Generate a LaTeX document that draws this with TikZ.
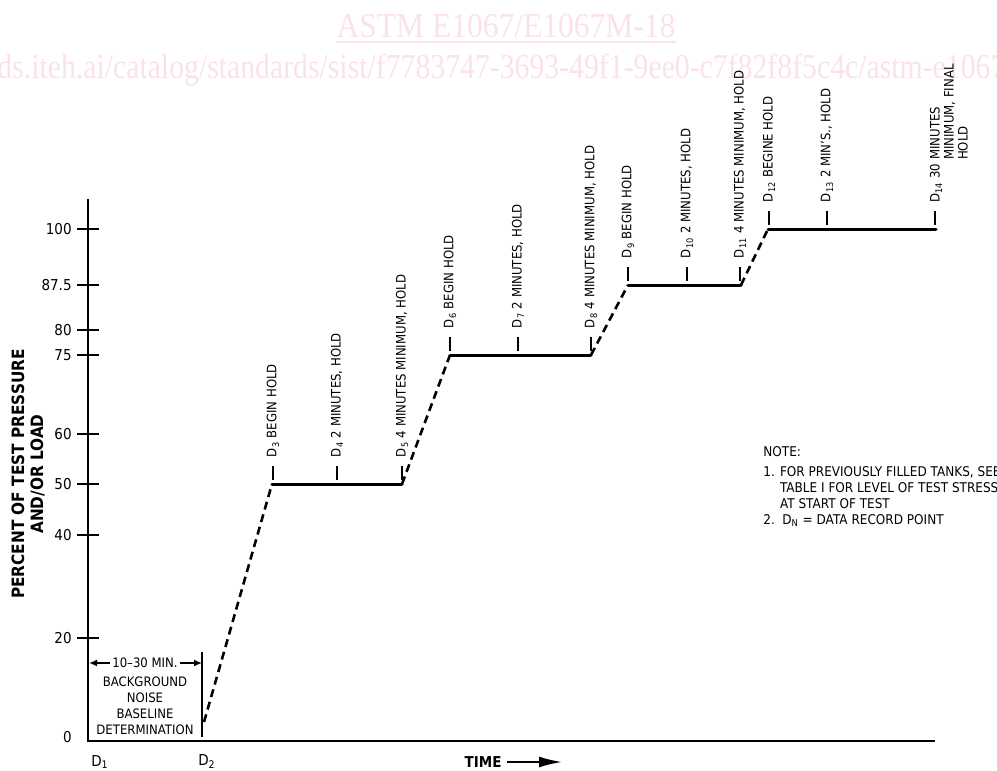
\documentclass[tikz,border=0pt]{standalone}
\usepackage{fontspec}
\setmainfont{DejaVu Sans}[FakeStretch=0.9]
\newfontfamily\wmfont{Liberation Serif}[FakeStretch=0.9]
\newfontfamily\wmurlfont{Liberation Serif}[FakeStretch=0.85]
\usetikzlibrary{arrows.meta, positioning}
\definecolor{wmpink}{RGB}{251,226,232}

\tikzset{
  axisline/.style={line width=1pt},
  hold/.style={line width=1.5pt, line cap=round},
  ramp/.style={line width=1.3pt, dash pattern=on 4pt off 2.5pt},
  dtick/.style={line width=1pt},
  dlbl/.style={rotate=90, anchor=west, inner xsep=4pt, inner ysep=0pt, font=\fontsize{6.5}{7.5}\selectfont},
  ylbl/.style={anchor=east, inner sep=0pt, font=\fontsize{7.5}{9}\selectfont},
  small/.style={font=\fontsize{6.5}{8}\selectfont},
  notetext/.style={font=\fontsize{6.7}{8}\selectfont}
}

\begin{document}
\begin{tikzpicture}[x=0.5pt, y=-0.5pt]
        \useasboundingbox (0,0) rectangle (997,771);
        \clip (0,0) rectangle (997,771);
        % watermark
        \node[wmpink, font=\wmfont\fontsize{17.5}{20}\selectfont, anchor=base, inner sep=0pt] (wmtitle) at (506,38) {ASTM E1067/E1067M-18};
        \draw[wmpink, line width=1pt] ([yshift=-2pt]wmtitle.base west) -- ([yshift=-2pt]wmtitle.base east);
        \node[wmpink, font=\wmurlfont\fontsize{17.5}{20}\selectfont, anchor=base west, inner sep=0pt] (wmurl) at (-3,78) {ds.iteh.ai/catalog/standards/sist/f7783747-3693-49f1-9ee0-c7f82f8f5c4c/astm-e1067-e1067m-18};

        % axes
        \draw[axisline] (88,199) -- (88,741) -- (935,741);
        \draw[axisline] (77,229) -- (99,229);
        \draw[axisline] (77,285) -- (99,285);
        \draw[axisline] (77,330) -- (99,330);
        \draw[axisline] (77,355) -- (99,355);
        \draw[axisline] (77,434) -- (99,434);
        \draw[axisline] (77,484) -- (99,484);
        \draw[axisline] (77,535) -- (99,535);
        \draw[axisline] (77,638) -- (99,638);
        \node[ylbl] (y100) at (72,229) {100};
        \node[ylbl] (y875) at (72,285) {87.5};
        \node[ylbl] (y80) at (72,330) {80};
        \node[ylbl] (y75) at (72,355) {75};
        \node[ylbl] (y60) at (72,434) {60};
        \node[ylbl] (y50) at (72,484) {50};
        \node[ylbl] (y40) at (72,535) {40};
        \node[ylbl] (y20) at (72,638) {20};
        \node[ylbl] (y0) at (72,737) {0};
        \node[rotate=90, align=center, font=\bfseries\fontsize{8.5}{9.5}\selectfont] (ytitle) at (28,474) {PERCENT OF TEST PRESSURE\\AND/OR LOAD};

        % time axis
        \node[font=\fontsize{7.5}{9}\selectfont] (dd1) at (100,762) {D\textsubscript{1}};
        \node[font=\fontsize{7.5}{9}\selectfont] (dd2) at (207,762) {D\textsubscript{2}};
        \node[anchor=east, inner xsep=2.5pt, inner ysep=0pt, font=\bfseries\fontsize{7.5}{9}\selectfont] (time) at (507,762) {TIME};
        \coordinate (timeend) at (563,762);
        \draw[line width=1.4pt, -{Latex[length=12pt,width=5.5pt]}] (time) -- (timeend);

        % baseline period
        \coordinate (bltop) at (202,652);
        \coordinate (blbot) at (202,737);
        \draw[axisline] (bltop) -- (blbot);
        \coordinate (minl) at (89,663);
        \coordinate (minr) at (202,663);
        \node[small, inner xsep=1pt] (mins) at (145,663) {10--30 MIN.};
        \draw[line width=0.8pt, -{Latex[length=4pt,width=3.5pt]}] (mins) -- (minl);
        \draw[line width=0.8pt, -{Latex[length=4pt,width=3.5pt]}] (mins) -- (minr);
        \node[small, align=center] (bgnote) at (145,706) {BACKGROUND\\NOISE\\BASELINE\\DETERMINATION};

        % load steps
        \coordinate (p2) at (204,722);
        \coordinate (p3) at (272,484);
        \coordinate (p5) at (402,484);
        \coordinate (p6) at (450,355);
        \coordinate (p8) at (591,355);
        \coordinate (p9) at (628,285);
        \coordinate (p11) at (741,285);
        \coordinate (p12) at (768,229);
        \coordinate (p14) at (936,229);
        \draw[ramp] (p2) -- (p3);
        \draw[hold] (p3) -- (p5);
        \draw[ramp] (p5) -- (p6);
        \draw[hold] (p6) -- (p8);
        \draw[ramp] (p8) -- (p9);
        \draw[hold] (p9) -- (p11);
        \draw[ramp] (p11) -- (p12);
        \draw[hold] (p12) -- (p14);

        % data record points
        \draw[dtick] (273,480) -- (273,466) node[dlbl] (d3) {D\textsubscript{3} BEGIN HOLD};
        \draw[dtick] (337,480) -- (337,466) node[dlbl] (d4) {D\textsubscript{4} 2 MINUTES, HOLD};
        \draw[dtick] (402,480) -- (402,466) node[dlbl] (d5) {D\textsubscript{5} 4 MINUTES MINIMUM, HOLD};
        \draw[dtick] (450,351) -- (450,337) node[dlbl] (d6) {D\textsubscript{6} BEGIN HOLD};
        \draw[dtick] (518,351) -- (518,337) node[dlbl] (d7) {D\textsubscript{7} 2 MINUTES, HOLD};
        \draw[dtick] (591,351) -- (591,337) node[dlbl] (d8) {D\textsubscript{8} 4 MINUTES MINIMUM, HOLD};
        \draw[dtick] (628,281) -- (628,267) node[dlbl] (d9) {D\textsubscript{9} BEGIN HOLD};
        \draw[dtick] (687,281) -- (687,267) node[dlbl] (d10) {D\textsubscript{10} 2 MINUTES, HOLD};
        \draw[dtick] (740,281) -- (740,267) node[dlbl] (d11) {D\textsubscript{11} 4 MINUTES MINIMUM, HOLD};
        \draw[dtick] (769,225) -- (769,211) node[dlbl] (d12) {D\textsubscript{12} BEGINE HOLD};
        \draw[dtick] (827,225) -- (827,211) node[dlbl] (d13) {D\textsubscript{13} 2 MIN'S., HOLD};
        \draw[dtick] (935,225) -- (935,211);
        \node[rotate=90, anchor=base west, inner sep=0pt, font=\fontsize{6.5}{7}\selectfont] (d14) at (939.5,203)
          {\begin{tabular}[t]{@{}l@{ }l@{}}D\textsubscript{14} 30 & MINUTES\\ & MINIMUM, FINAL\\ & HOLD\end{tabular}};

        % note
        \node[notetext, anchor=base west, inner sep=0pt] (notehd) at (763,456) {NOTE:};
        \node[notetext, anchor=base west, inner sep=0pt] (notebody) at (763,476)
          {\begin{tabular}[t]{@{}l@{ }l@{}}1. & FOR PREVIOUSLY FILLED TANKS, SEE\\ & TABLE I FOR LEVEL OF TEST STRESS\\ & AT START OF TEST\\ 2. & \,D\textsubscript{N} = DATA RECORD POINT\end{tabular}};
\end{tikzpicture}
\end{document}
